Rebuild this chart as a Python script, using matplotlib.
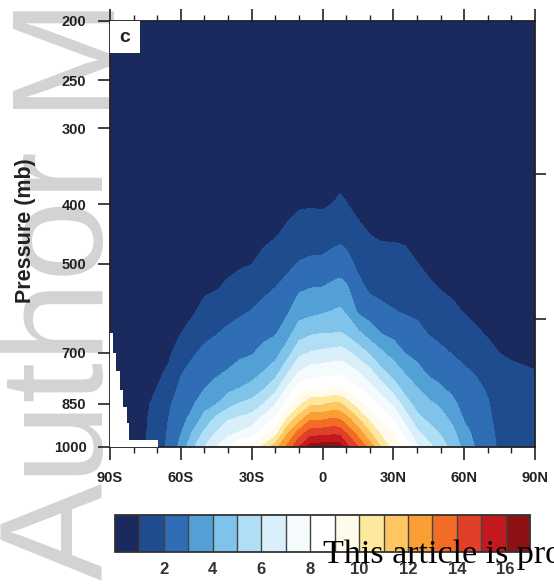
import numpy as np
import matplotlib
matplotlib.use("Agg")
import matplotlib.pyplot as plt
from matplotlib.ticker import FixedLocator, FixedFormatter, NullLocator, MultipleLocator
from matplotlib.patches import Rectangle

# ---------------- data ----------------
lats = [-90, -80, -75, -70, -65, -60, -55, -50, -45, -40, -35, -30, -25, -20, -15, -10, -5, 0,
        5, 7.5, 10, 15, 20, 25, 30, 35, 40, 45, 50, 55, 60, 65, 70, 75, 80, 90]
pressure_levels = [200, 300, 400, 450, 500, 550, 600, 650, 700, 750, 800, 850, 900, 950, 1000]

q_200 = [0.01, 0.01, 0.01, 0.01, 0.01, 0.02, 0.02, 0.03, 0.03, 0.04, 0.04, 0.05, 0.06, 0.07, 0.08, 0.09, 0.10, 0.10,
         0.10, 0.10, 0.10, 0.08, 0.07, 0.06, 0.06, 0.06, 0.05, 0.04, 0.03, 0.03, 0.03, 0.02, 0.02, 0.02, 0.01, 0.01]
q_300 = [0.02, 0.02, 0.02, 0.03, 0.05, 0.08, 0.09, 0.12, 0.13, 0.15, 0.16, 0.18, 0.21, 0.25, 0.29, 0.35, 0.36, 0.35,
         0.39, 0.41, 0.39, 0.31, 0.26, 0.24, 0.24, 0.23, 0.19, 0.15, 0.13, 0.11, 0.10, 0.08, 0.07, 0.06, 0.055, 0.05]
q_400 = [0.04, 0.05, 0.06, 0.10, 0.14, 0.20, 0.24, 0.30, 0.34, 0.38, 0.43, 0.47, 0.55, 0.64, 0.76, 0.90, 0.93, 0.90,
         1.03, 1.11, 1.03, 0.79, 0.68, 0.62, 0.62, 0.59, 0.49, 0.39, 0.34, 0.30, 0.25, 0.21, 0.18, 0.16, 0.14, 0.13]
q_450 = [0.05, 0.07, 0.09, 0.15, 0.20, 0.29, 0.35, 0.45, 0.50, 0.56, 0.63, 0.69, 0.82, 0.95, 1.18, 1.46, 1.53, 1.51,
         1.69, 1.76, 1.67, 1.24, 1.01, 0.91, 0.91, 0.87, 0.72, 0.58, 0.50, 0.44, 0.37, 0.32, 0.27, 0.23, 0.21, 0.19]
q_500 = [0.07, 0.10, 0.13, 0.21, 0.28, 0.41, 0.49, 0.63, 0.70, 0.79, 0.89, 0.98, 1.25, 1.49, 1.77, 2.05, 2.18, 2.22,
         2.45, 2.53, 2.37, 1.78, 1.45, 1.33, 1.31, 1.24, 1.02, 0.81, 0.71, 0.62, 0.53, 0.45, 0.39, 0.33, 0.30, 0.26]
q_550 = [0.10, 0.14, 0.18, 0.28, 0.39, 0.56, 0.68, 0.87, 0.96, 1.16, 1.36, 1.53, 1.80, 2.02, 2.32, 2.86, 3.02, 3.06,
         3.29, 3.36, 3.18, 2.33, 1.85, 1.74, 1.68, 1.60, 1.45, 1.16, 0.97, 0.85, 0.72, 0.61, 0.53, 0.45, 0.41, 0.36]
q_600 = [0.13, 0.18, 0.24, 0.37, 0.52, 0.75, 0.90, 1.27, 1.46, 1.69, 1.88, 2.04, 2.30, 2.48, 2.86, 3.59, 3.74, 3.89,
         4.08, 4.15, 3.90, 2.88, 2.51, 2.23, 2.05, 1.93, 1.83, 1.57, 1.38, 1.18, 0.96, 0.82, 0.70, 0.60, 0.54, 0.48]
q_650 = [0.17, 0.24, 0.32, 0.48, 0.67, 0.98, 1.35, 1.77, 1.95, 2.18, 2.36, 2.49, 2.74, 2.90, 3.56, 4.53, 4.87, 4.98,
         5.00, 5.04, 4.82, 4.18, 3.53, 2.93, 2.70, 2.43, 2.26, 1.95, 1.76, 1.58, 1.36, 1.11, 0.92, 0.78, 0.71, 0.63]
q_700 = [0.21, 0.30, 0.42, 0.62, 0.86, 1.44, 1.88, 2.20, 2.39, 2.61, 2.79, 2.91, 3.28, 3.61, 4.51, 5.70, 6.05, 6.20,
         6.35, 6.40, 6.20, 5.58, 4.84, 4.14, 3.56, 2.96, 2.71, 2.38, 2.17, 1.95, 1.75, 1.52, 1.24, 0.99, 0.91, 0.80]
q_750 = [0.26, 0.38, 0.55, 0.82, 1.13, 1.90, 2.26, 2.59, 2.80, 3.04, 3.34, 3.53, 3.96, 4.49, 5.73, 6.92, 7.45, 7.56,
         7.66, 7.73, 7.53, 6.92, 6.20, 5.16, 4.52, 3.84, 3.27, 2.79, 2.62, 2.37, 2.10, 1.91, 1.58, 1.22, 1.12, 1.01]
q_800 = [0.31, 0.46, 0.70, 1.01, 1.51, 2.21, 2.58, 2.96, 3.32, 3.72, 3.99, 4.29, 4.88, 5.61, 7.07, 8.41, 8.71, 8.84,
         8.85, 8.86, 8.66, 8.06, 7.33, 6.45, 5.49, 4.58, 4.03, 3.44, 3.09, 2.77, 2.38, 2.18, 1.90, 1.45, 1.33, 1.20]
q_850 = [0.36, 0.54, 0.85, 1.25, 1.87, 2.46, 2.89, 3.61, 3.96, 4.60, 5.08, 5.33, 6.00, 6.92, 8.40, 9.75, 10.80, 10.86,
         11.25, 11.13, 10.57, 9.40, 8.50, 7.60, 6.82, 5.46, 4.61, 4.22, 3.82, 3.22, 2.67, 2.40, 2.06, 1.62, 1.48, 1.35]
q_900 = [0.40, 0.60, 0.90, 1.40, 2.03, 2.69, 3.30, 4.36, 5.24, 5.91, 6.19, 6.44, 7.32, 8.08, 10.12, 11.51, 12.87, 12.87,
         13.14, 12.90, 12.46, 11.14, 9.76, 8.76, 7.94, 6.61, 5.32, 4.78, 4.41, 3.78, 2.93, 2.58, 2.14, 1.75, 1.60, 1.46]
q_950 = [0.43, 0.65, 0.93, 1.52, 2.12, 2.97, 4.11, 5.20, 6.09, 6.67, 7.14, 7.54, 8.60, 9.54, 11.82, 13.49, 14.60, 14.68,
         14.82, 14.68, 14.04, 12.64, 11.14, 9.76, 9.03, 7.61, 6.30, 5.49, 4.94, 4.30, 3.30, 2.75, 2.20, 1.85, 1.70, 1.55]
q_1000 = [0.45, 0.70, 0.95, 1.60, 2.20, 3.30, 4.80, 6.00, 7.00, 8.10, 8.90, 9.40, 10.20, 11.60, 13.20, 15.00, 16.50, 16.60,
          16.70, 16.50, 15.40, 14.00, 12.60, 10.90, 9.60, 8.60, 7.10, 6.30, 5.40, 4.70, 3.70, 2.90, 2.25, 1.90, 1.75, 1.60]

# surface (terrain) mask over Antarctica
terrain_lat = [-90, -88.6, -87.3, -85.6, -84.3, -83.0, -82.0, -69.5]
terrain_pres = [650, 700, 750, 806, 860, 913, 974, 974]

contour_levels = list(range(1, 17))
band_colors = ["#1b2a5e", "#1f4b8f", "#2f6eb4", "#52a0d6", "#7fc3ea", "#b0def4", "#d9eff9", "#f5fafd",
               "#ffffff", "#fffbea", "#fee89e", "#fdc662", "#fb9e34", "#f36c26", "#e04027", "#c1191e", "#8c1214"]
cbar_ticks = [2, 4, 6, 8, 10, 12, 14, 16]
lat_ticks = [-90, -60, -30, 0, 30, 60, 90]
lat_tick_labels = ["90S", "60S", "30S", "0", "30N", "60N", "90N"]
p_ticks = [200, 250, 300, 400, 500, 700, 850, 1000]
p_tick_labels = ["200", "250", "300", "400", "500", "700", "850", "1000"]
height_tick_pressures = [616.6, 356.5]  # 4 km and 8 km (standard atmosphere)

# ---------------- figure ----------------
plt.rcParams["font.family"] = ["Liberation Sans", "DejaVu Sans"]
W, H = 554, 585
fig = plt.figure(figsize=(W / 100, H / 100), dpi=100)

# watermark
wm_color = "#d3d3d3"
fig.text(103 / W, 1 - 150 / H, "Author", rotation=90, rotation_mode="anchor", ha="right", va="baseline",
         fontsize=105, color=wm_color, zorder=-5)
fig.text(103 / W, 1 - 108 / H, "Manuscript", rotation=90, rotation_mode="anchor", ha="left", va="baseline",
         fontsize=105, color=wm_color, zorder=-5)

ax = fig.add_axes([110 / W, 1 - 447 / H, 425 / W, 426 / H])
Z = np.array([q_200, q_300, q_400, q_450, q_500, q_550, q_600, q_650, q_700, q_750,
              q_800, q_850, q_900, q_950, q_1000])
cf = ax.contourf(lats, pressure_levels, Z, levels=contour_levels, colors=band_colors, extend="both")
ax.fill_between(terrain_lat, terrain_pres, 1000, step="post", color="white", linewidth=0, zorder=3)

ax.set_yscale("log")
ax.set_xlim(-90, 90)
ax.set_ylim(1000, 200)
ax.yaxis.set_major_locator(FixedLocator(p_ticks))
ax.yaxis.set_major_formatter(FixedFormatter(p_tick_labels))
ax.yaxis.set_minor_locator(NullLocator())
ax.xaxis.set_major_locator(FixedLocator(lat_ticks))
ax.xaxis.set_major_formatter(FixedFormatter(lat_tick_labels))
ax.xaxis.set_minor_locator(MultipleLocator(10))

tick_col = "#222222"
ax.tick_params(axis="both", which="major", direction="out", length=9, width=1.2, color=tick_col,
               labelsize=10.5, labelcolor=tick_col, pad=8)
ax.tick_params(axis="x", which="both", top=True)
ax.tick_params(axis="x", which="minor", direction="out", length=4.5, width=1.0, color=tick_col)
for lab in ax.get_xticklabels() + ax.get_yticklabels():
    lab.set_fontweight("bold")
for sp in ax.spines.values():
    sp.set_linewidth(1.3)
    sp.set_color(tick_col)

axr = ax.twinx()
axr.set_yscale("log")
axr.set_ylim(1000, 200)
axr.yaxis.set_major_locator(FixedLocator(height_tick_pressures))
axr.yaxis.set_minor_locator(NullLocator())
axr.tick_params(axis="y", direction="out", length=8, width=1.2, color=tick_col, labelright=False)
for sp in axr.spines.values():
    sp.set_visible(False)

# panel label
ax.add_patch(Rectangle((0, 1 - 32 / 426), 30 / 425, 32 / 426, transform=ax.transAxes,
                       facecolor="white", edgecolor="none", zorder=6))
ax.text(15 / 425, 1 - 16 / 426, "c", transform=ax.transAxes, ha="center", va="center",
        fontsize=14, fontweight="bold", color="#222222", zorder=7)

fig.text(25 / W, 1 - 231 / H, "Pressure (mb)", rotation=90, ha="center", va="center",
         fontsize=15.5, fontweight="bold", color="#222222")

# colorbar
cax = fig.add_axes([115 / W, 1 - 552 / H, 415 / W, 37 / H])
cb = fig.colorbar(cf, cax=cax, orientation="horizontal", extend="both", extendrect=True,
                  extendfrac="auto", drawedges=True, ticks=cbar_ticks)
cb.outline.set_edgecolor("#333333")
cb.outline.set_linewidth(1.3)
cb.dividers.set_color("#444444")
cb.dividers.set_linewidth(1.0)
cb.ax.tick_params(length=0, labelsize=12, pad=7, labelcolor="#333333")
cb.ax.set_xticklabels([str(t) for t in cbar_ticks], fontweight="bold")

fig.text(323 / W, 1 - 563 / H, "This article is protected by copyright. All rights reserved.",
         fontsize=24.5, family="Liberation Serif", color="black", ha="left", va="baseline", zorder=20)

fig.savefig("out.png", dpi=100)
